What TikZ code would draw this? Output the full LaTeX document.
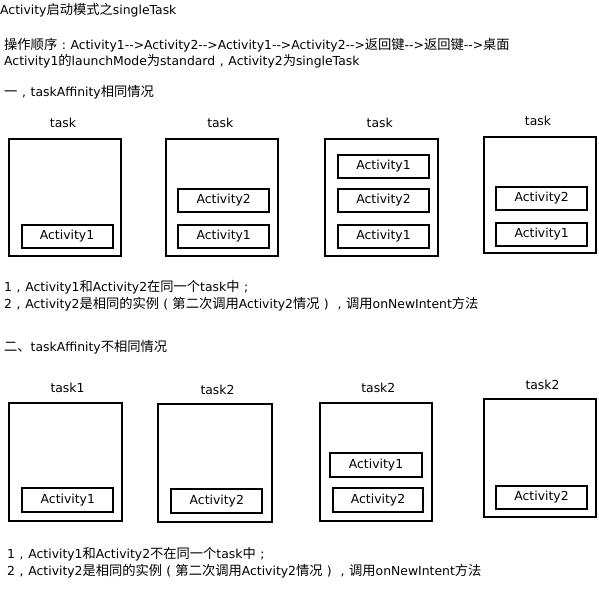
\documentclass[tikz,border=0pt]{standalone}
\usepackage{fontspec}
\setmainfont{DejaVu Sans}
\newfontfamily\cjk{Noto Sans CJK SC}[Scale=1.07]
\newcommand\zh[1]{{\cjk #1}}
% full-width punctuation: a Latin sign centred in one CJK em
\newcommand\fw[1]{\makebox[1.07em][c]{#1}}
\newcommand\arr{-\kern0pt-\kern0pt>}
\begin{document}
\begin{tikzpicture}[x=1pt,y=-1pt,
  txt/.style={anchor=west,inner sep=0pt,font=\fontsize{12.4}{14}\selectfont},
  lbl/.style={inner sep=0pt,font=\fontsize{12.4}{14}\selectfont},
  taskbox/.style={draw,line width=2pt,inner sep=0pt,minimum width=112pt,minimum height=117pt},
  actbox/.style={draw,line width=2pt,inner sep=0pt,minimum width=91pt,minimum height=23pt,font=\fontsize{12.4}{14}\selectfont}]
\path[use as bounding box,fill=white] (0,0) rectangle (599,595);

% headings and notes
\node[txt] (title) at (0,10) {Activity\zh{启动模式之}singleTask};
\node[txt] (order) at (4,45) {\zh{操作顺序}\fw{:}Activity1\arr Activity2\arr Activity1\arr Activity2\arr\zh{返回键}\arr\zh{返回键}\arr\zh{桌面}};
\node[txt] (mode) at (4,61) {Activity1\zh{的}launchMode\zh{为}standard\fw{,}Activity2\zh{为}singleTask};
\node[txt] (secA) at (4,92) {\zh{一}\fw{,}taskAffinity\zh{相同情况}};
\node[txt] (noteA1) at (4,287) {1\fw{,}Activity1\zh{和}Activity2\zh{在同一个}task\zh{中}\fw{;}};
\node[txt] (noteA2) at (4,304) {2\fw{,}Activity2\zh{是相同的实例}\fw{(}\zh{第二次调用}Activity2\zh{情况}\fw{)}\fw{,}\zh{调用}onNewIntent\zh{方法}};
\node[txt] (secB) at (4,347) {\zh{二、}taskAffinity\zh{不相同情况}};
\node[txt] (noteB1) at (7,554) {1\fw{,}Activity1\zh{和}Activity2\zh{不在同一个}task\zh{中}\fw{;}};
\node[txt] (noteB2) at (7,571) {2\fw{,}Activity2\zh{是相同的实例}\fw{(}\zh{第二次调用}Activity2\zh{情况}\fw{)}\fw{,}\zh{调用}onNewIntent\zh{方法}};

% same taskAffinity
\node[lbl] (la1) at (63,122.7) {task};
\node[taskbox] (ta1) at (65,197.5) {};
\node[actbox] (ta1a) at (67,236.5) {Activity1};

\node[lbl] (la2) at (220.3,122.7) {task};
\node[taskbox,minimum width=112.6pt] (ta2) at (222,197.5) {};
\node[actbox] (ta2b) at (223.7,200.2) {Activity2};
\node[actbox] (ta2a) at (223.7,236.5) {Activity1};

\node[lbl] (la3) at (379.7,122.7) {task};
\node[taskbox,minimum width=113.3pt] (ta3) at (381.7,197.5) {};
\node[actbox] (ta3c) at (383.5,166) {Activity1};
\node[actbox] (ta3b) at (383.5,200.3) {Activity2};
\node[actbox] (ta3a) at (383.5,236.2) {Activity1};

\node[lbl] (la4) at (538,120.7) {task};
\node[taskbox,minimum height=116pt] (ta4) at (539.7,195) {};
\node[actbox] (ta4b) at (541.7,198.2) {Activity2};
\node[actbox] (ta4a) at (541.7,234.3) {Activity1};

% different taskAffinity
\node[lbl] (lb1) at (67.5,388.3) {task1};
\node[taskbox,minimum width=113pt,minimum height=118pt] (tb1) at (65.8,461.7) {};
\node[actbox,minimum height=24pt] (tb1a) at (67.8,500.3) {Activity1};

\node[lbl] (lb2) at (217.5,390) {task2};
\node[taskbox,minimum width=113.4pt,minimum height=118pt] (tb2) at (215,462.7) {};
\node[actbox,minimum height=24pt] (tb2b) at (216.8,501.3) {Activity2};

\node[lbl] (lb3) at (378.3,388.3) {task2};
\node[taskbox,minimum width=112.6pt,minimum height=118pt] (tb3) at (376,461.7) {};
\node[actbox,minimum width=91.4pt,minimum height=23.7pt] (tb3a) at (376,465.2) {Activity1};
\node[actbox,minimum width=90.6pt,minimum height=24pt] (tb3b) at (378,500.3) {Activity2};

\node[lbl] (lb4) at (542.5,385) {task2};
\node[taskbox,minimum height=118pt] (tb4) at (539.7,458.3) {};
\node[actbox,minimum width=90.4pt] (tb4b) at (541.5,497.5) {Activity2};
\end{tikzpicture}
\end{document}
